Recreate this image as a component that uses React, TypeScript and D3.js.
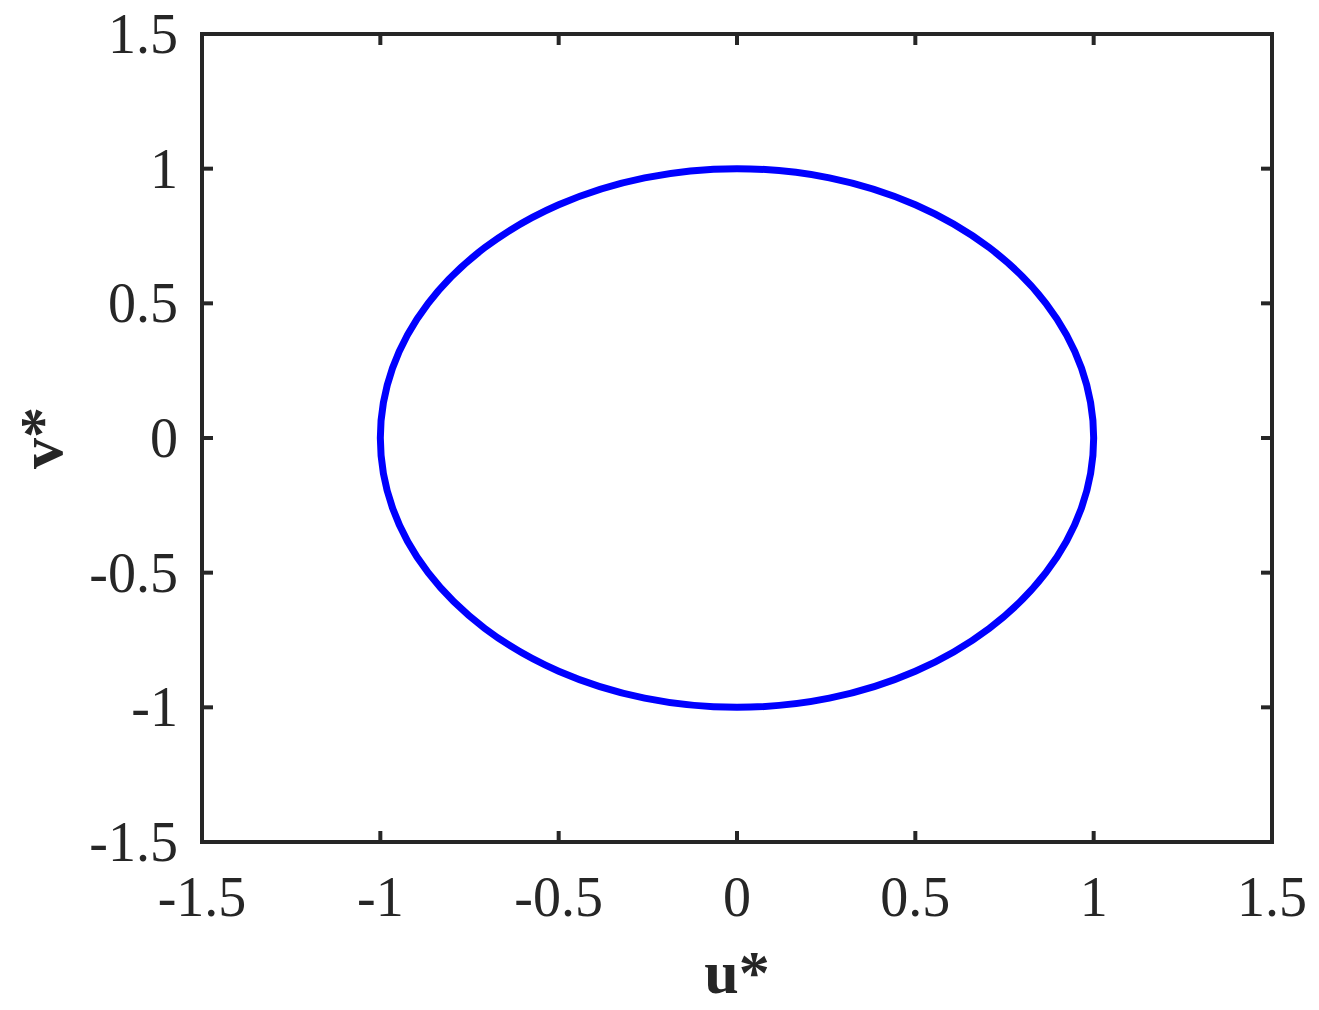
import React, { useEffect, useRef } from 'react'
import * as d3 from 'd3'

// points (u*, v*), going round anticlockwise
const uValues = [1, 0.966, 0.866, 0.707, 0.5, 0.259, 0, -0.259, -0.5, -0.707, -0.866, -0.966,
  -1, -0.966, -0.866, -0.707, -0.5, -0.259, 0, 0.259, 0.5, 0.707, 0.866, 0.966]
const vValues = [0, 0.259, 0.5, 0.707, 0.866, 0.966, 1, 0.966, 0.866, 0.707, 0.5, 0.259,
  0, -0.259, -0.5, -0.707, -0.866, -0.966, -1, -0.966, -0.866, -0.707, -0.5, -0.259]

const xTicks = [-1.5, -1, -0.5, 0, 0.5, 1, 1.5]
const yTicks = [-1.5, -1, -0.5, 0, 0.5, 1, 1.5]

const App = () => {
  const svgRef = useRef(null)

  useEffect(() => {
    const width = 1319
    const height = 1010
    const marginLeft = 202
    const marginRight = 47
    const marginTop = 34
    const marginBottom = 168
    const axisColor = '#262626'
    const font = '"Liberation Serif", "Times New Roman", serif'
    const tickLen = 11

    const svg = d3.select(svgRef.current)
      .attr('width', width)
      .attr('height', height)
      .attr('viewBox', [0, 0, width, height])
    svg.selectAll('*').remove()

    const x = d3.scaleLinear().domain([-1.5, 1.5]).range([marginLeft, width - marginRight])
    const y = d3.scaleLinear().domain([-1.5, 1.5]).range([height - marginBottom, marginTop])

    const pts = uValues.map((u, i) => [u, vValues[i]])

    // the curve
    const line = d3.line()
      .x((d) => x(d[0]))
      .y((d) => y(d[1]))
      .curve(d3.curveCardinalClosed.tension(0))
    svg.append('path')
      .datum(pts)
      .attr('d', line)
      .attr('fill', 'none')
      .attr('stroke', '#0000ff')
      .attr('stroke-width', 7)

    const x0 = x.range()[0], x1 = x.range()[1]
    const y0 = y.range()[1], y1 = y.range()[0]

    // ticks, inward on all four sides
    const g = svg.append('g').attr('stroke', axisColor).attr('stroke-width', 4)
    xTicks.forEach((t) => {
      g.append('line').attr('x1', x(t)).attr('x2', x(t)).attr('y1', y1).attr('y2', y1 - tickLen)
      g.append('line').attr('x1', x(t)).attr('x2', x(t)).attr('y1', y0).attr('y2', y0 + tickLen)
    })
    yTicks.forEach((t) => {
      g.append('line').attr('x1', x0).attr('x2', x0 + tickLen).attr('y1', y(t)).attr('y2', y(t))
      g.append('line').attr('x1', x1).attr('x2', x1 - tickLen).attr('y1', y(t)).attr('y2', y(t))
    })

    // box
    svg.append('rect')
      .attr('x', x0).attr('y', y0)
      .attr('width', x1 - x0).attr('height', y1 - y0)
      .attr('fill', 'none')
      .attr('stroke', axisColor)
      .attr('stroke-width', 4)

    // tick labels
    svg.append('g')
      .selectAll('text')
      .data(xTicks)
      .join('text')
      .attr('x', (d) => x(d))
      .attr('y', 916)
      .attr('text-anchor', 'middle')
      .attr('font-family', font)
      .attr('font-size', 56)
      .attr('fill', axisColor)
      .text((d) => String(d))

    svg.append('g')
      .selectAll('text')
      .data(yTicks)
      .join('text')
      .attr('x', 178)
      .attr('y', (d) => y(d))
      .attr('dy', '0.34em')
      .attr('text-anchor', 'end')
      .attr('font-family', font)
      .attr('font-size', 56)
      .attr('fill', axisColor)
      .text((d) => String(d))

    // axis titles
    svg.append('text')
      .attr('x', (x0 + x1) / 2)
      .attr('y', 993)
      .attr('text-anchor', 'middle')
      .attr('font-family', font)
      .attr('font-weight', 'bold')
      .attr('font-size', 62)
      .attr('fill', axisColor)
      .text('u*')

    svg.append('text')
      .attr('transform', `translate(62,${(y0 + y1) / 2}) rotate(-90)`)
      .attr('text-anchor', 'middle')
      .attr('font-family', font)
      .attr('font-weight', 'bold')
      .attr('font-size', 62)
      .attr('fill', axisColor)
      .text('v*')
  }, [])

  return <svg ref={svgRef} style={{ position: 'absolute', left: 0, top: 0 }}></svg>
}

export default App
